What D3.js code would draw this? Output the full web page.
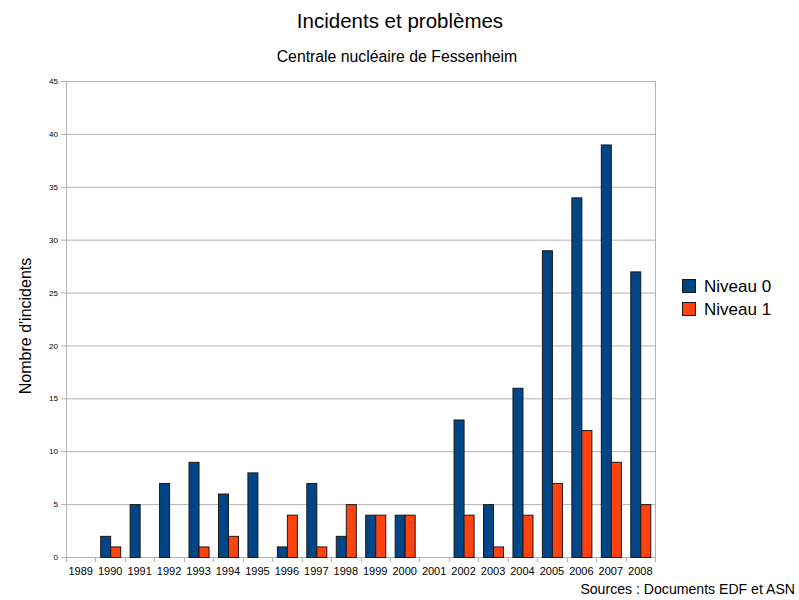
<!DOCTYPE html>
<html>
<head>
<meta charset="utf-8">
<script src="https://cdn.jsdelivr.net/npm/d3@7"></script>
<style>
  body { margin: 0; background: #fff; }
  text { font-family: "Liberation Sans", Arial, sans-serif; fill: #000; }
</style>
</head>
<body>
<div id="chart"></div>
<script>
  const years = ["1989", "1990", "1991", "1992", "1993", "1994", "1995", "1996", "1997", "1998",
    "1999", "2000", "2001", "2002", "2003", "2004", "2005", "2006", "2007", "2008"];
  const niveau0 = [0, 2, 5, 7, 9, 6, 8, 1, 7, 2, 4, 4, 0, 13, 5, 16, 29, 34, 39, 27];
  const niveau1 = [0, 1, 0, 0, 1, 2, 0, 4, 1, 5, 4, 4, 0, 4, 1, 4, 7, 12, 9, 5];
  const seriesNames = ["Niveau 0", "Niveau 1"];
  const colors = ["#004586", "#ff420e"];
  const yTicks = [0, 5, 10, 15, 20, 25, 30, 35, 40, 45];

  const width = 799, height = 600;
  const margin = { top: 81, right: 144, bottom: 43, left: 66 };
  const innerW = width - margin.left - margin.right;
  const innerH = height - margin.top - margin.bottom;

  const svg = d3.select("#chart").append("svg")
    .attr("width", width).attr("height", height);

  const g = svg.append("g")
    .attr("transform", "translate(" + margin.left + "," + margin.top + ")");

  const x = d3.scaleBand().domain(years).range([0, innerW]).paddingInner(0).paddingOuter(0);
  const y = d3.scaleLinear().domain([0, 45]).range([innerH, 0]);
  // bars inside each year slot
  const xs = d3.scaleBand().domain(seriesNames).range([0, x.bandwidth()]).paddingOuter(0.47).paddingInner(0);

  // gridlines
  g.append("g").selectAll("line").data(yTicks).join("line")
    .attr("x1", 0).attr("x2", innerW)
    .attr("y1", d => y(d) + 0.5).attr("y2", d => y(d) + 0.5)
    .attr("stroke", "#b3b3b3");
  g.append("line")
    .attr("x1", innerW + 0.5).attr("x2", innerW + 0.5)
    .attr("y1", 0).attr("y2", innerH)
    .attr("stroke", "#b3b3b3");

  // y axis
  const yAxis = g.append("g")
    .call(d3.axisLeft(y).tickValues(yTicks).tickSize(5).tickPadding(3));
  yAxis.select(".domain").attr("stroke", "#b3b3b3");
  yAxis.selectAll(".tick line").attr("stroke", "#b3b3b3");
  yAxis.selectAll("text").style("font-size", "8px").attr("fill", "#000");

  // x axis: ticks between categories
  const xAxis = g.append("g").attr("transform", "translate(0," + innerH + ")");
  xAxis.append("line").attr("x1", 0).attr("x2", innerW).attr("y1", 0.5).attr("y2", 0.5)
    .attr("stroke", "#b3b3b3");
  const bounds = years.map(d => x(d)).concat([innerW]);
  xAxis.selectAll("line.tk").data(bounds).join("line").attr("class", "tk")
    .attr("x1", d => Math.round(d) + 0.5).attr("x2", d => Math.round(d) + 0.5)
    .attr("y1", 0).attr("y2", 5)
    .attr("stroke", "#b3b3b3");
  xAxis.selectAll("text").data(years).join("text")
    .attr("x", d => x(d) + x.bandwidth() / 2)
    .attr("y", 18)
    .attr("text-anchor", "middle")
    .style("font-size", "11px")
    .text(d => d);

  // bars
  const rows = years.map((yr, i) => ({ year: yr, vals: [niveau0[i], niveau1[i]] }));
  const grp = g.selectAll("g.year").data(rows).join("g")
    .attr("class", "year")
    .attr("transform", d => "translate(" + x(d.year) + ",0)");
  grp.selectAll("rect").data(d => d.vals.map((v, k) => ({ v, k })).filter(e => e.v > 0)).join("rect")
    .attr("x", d => xs(seriesNames[d.k]) + 0.5)
    .attr("y", d => y(d.v) + 0.5)
    .attr("width", xs.bandwidth())
    .attr("height", d => innerH - y(d.v))
    .attr("fill", d => colors[d.k])
    .attr("stroke", "#1a1a1a")
    .attr("stroke-width", 1);

  // titles
  svg.append("text").attr("x", 400).attr("y", 28).attr("text-anchor", "middle")
    .style("font-size", "20.5px").text("Incidents et problèmes");
  svg.append("text").attr("x", 397).attr("y", 62).attr("text-anchor", "middle")
    .style("font-size", "15.8px").text("Centrale nucléaire de Fessenheim");
  svg.append("text")
    .attr("transform", "translate(31," + (margin.top + innerH / 2 + 7) + ")rotate(-90)")
    .attr("text-anchor", "middle")
    .style("font-size", "16px").text("Nombre d'incidents");
  svg.append("text").attr("x", 795).attr("y", 594).attr("text-anchor", "end")
    .style("font-size", "14.1px").text("Sources : Documents EDF et ASN");

  // legend
  const legend = svg.append("g").attr("transform", "translate(682,279)");
  const li = legend.selectAll("g").data(seriesNames).join("g")
    .attr("transform", (d, i) => "translate(0," + i * 23 + ")");
  li.append("rect").attr("x", 0.5).attr("y", 0.5).attr("width", 13).attr("height", 13)
    .attr("fill", (d, i) => colors[i]).attr("stroke", "#1a1a1a");
  li.append("text").attr("x", 22).attr("y", 13).style("font-size", "17px").text(d => d);
</script>
</body>
</html>
